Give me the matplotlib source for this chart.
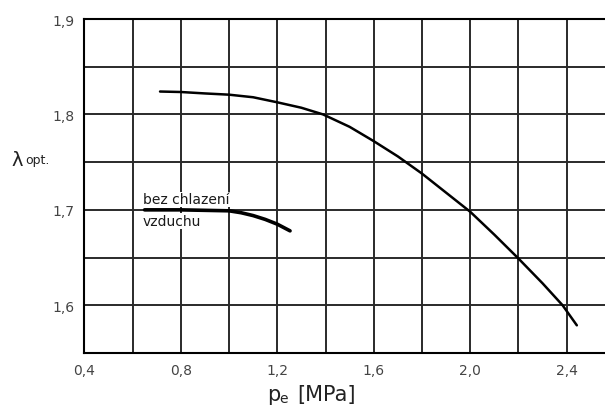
import matplotlib
matplotlib.use("Agg")
import matplotlib.pyplot as plt
import numpy as np

# Data
pe_main = [0.714, 0.8, 0.9, 1.0, 1.1, 1.2, 1.3, 1.39, 1.5, 1.6, 1.7, 1.8, 1.9, 2.0, 2.1, 2.2, 2.3, 2.383, 2.442]
lam_main = [1.824, 1.8235, 1.822, 1.8207, 1.818, 1.8127, 1.807, 1.800, 1.787, 1.772, 1.756, 1.738, 1.718, 1.698, 1.674, 1.649, 1.623, 1.600, 1.579]

pe_nocool = [0.65, 0.8, 0.9, 1.0, 1.05, 1.1, 1.15, 1.2, 1.253]
lam_nocool = [1.700, 1.700, 1.6995, 1.699, 1.697, 1.694, 1.690, 1.685, 1.678]

xticks = [0.4, 0.8, 1.2, 1.6, 2.0, 2.4]
xtick_labels = ["0,4", "0,8", "1,2", "1,6", "2,0", "2,4"]
yticks = [1.6, 1.7, 1.8, 1.9]
ytick_labels = ["1,6", "1,7", "1,8", "1,9"]

plt.rcParams['font.family'] = ['DejaVu Sans']

W, H = 605, 410
fig = plt.figure(figsize=(W / 100, H / 100), dpi=100)
ax = fig.add_axes([84.3 / W, 1 - 354 / H, 1 - 84.3 / W, (354 - 20) / H])

ax.set_xlim(0.4, 0.4 + (W - 84.3) / 241.2)
ax.set_ylim(1.55, 1.9)

grid_color = '#2a2a2a'
for gx in np.arange(0.6, 2.6, 0.2):
    ax.axvline(gx, color=grid_color, lw=1.4, zorder=1)
for gy in np.arange(1.6, 1.91, 0.05):
    ax.axhline(gy, color=grid_color, lw=1.4, zorder=2.5)

ax.plot(pe_main, lam_main, color='black', lw=1.8, solid_capstyle='round', zorder=3)
ax.plot(pe_nocool, lam_nocool, color='black', lw=2.6, solid_capstyle='round', zorder=3)

bb = dict(facecolor='white', edgecolor='none', pad=0.5)
ax.text(0.642, 1.7068, "bez chlazení", fontsize=10, color='#1a1a1a', va='baseline', ha='left',
        zorder=2, bbox=bb)
ax.text(0.642, 1.684, "vzduchu", fontsize=10, color='#1a1a1a', va='baseline', ha='left',
        zorder=2, bbox=bb)

ax.set_xticks(xticks)
ax.set_xticklabels(xtick_labels)
ax.set_yticks(yticks)
ax.set_yticklabels(ytick_labels)
ax.tick_params(length=0, labelsize=10, labelcolor='#444444', pad=7)

ax.spines['right'].set_visible(False)
for s in ['left', 'bottom', 'top']:
    ax.spines[s].set_linewidth(1.5)
    ax.spines[s].set_color('black')

# axis labels
fig.text(11 / W, 1 - 166 / H, "λ", fontsize=14, color='#222222', va='baseline', ha='left')
fig.text(25 / W, 1 - 164 / H, "opt.", fontsize=9, color='#222222', va='baseline', ha='left')

fig.text(267 / W, 1 - 401 / H, "p", fontsize=15, color='#222222', va='baseline', ha='left')
fig.text(279 / W, 1 - 403 / H, "e", fontsize=10, color='#222222', va='baseline', ha='left')
fig.text(297 / W, 1 - 401 / H, "[MPa]", fontsize=15, color='#222222', va='baseline', ha='left')

fig.savefig("out.png", dpi=100)
